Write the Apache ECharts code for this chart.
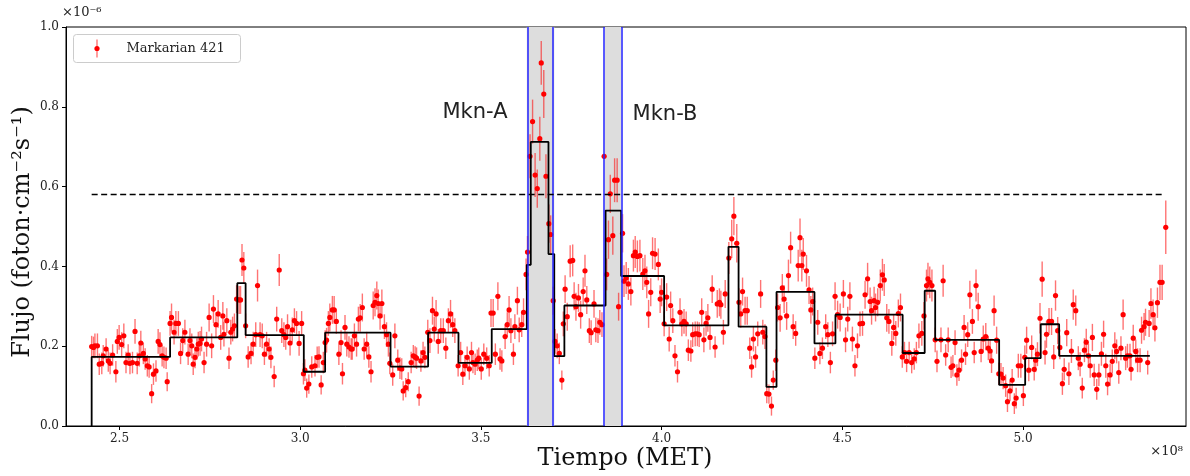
<!DOCTYPE html>
<html>
<head>
<meta charset="utf-8">
<script src="https://cdn.jsdelivr.net/npm/echarts@6/dist/echarts.min.js"></script>
<style>
  html, body { margin: 0; padding: 0; background: #fff; }
  #chart { width: 1190px; height: 476px; }
</style>
</head>
<body>
<div id="chart"></div>
<script>
// tiempo en unidades de 1e8 s (MET), flujo en unidades de 1e-6 foton cm^-2 s^-1
var tiempo = [
  2.423,2.428,2.432,2.439,2.444,2.451,2.455,2.463,2.469,2.474,2.481,2.490,2.494,2.499,2.506,2.512,2.518,2.524,2.529,2.536,
  2.543,2.549,2.555,2.559,2.566,2.571,2.577,2.582,2.589,2.594,2.601,2.607,2.612,2.618,2.623,2.629,2.632,2.640,2.644,2.651,
  2.656,2.663,2.669,2.675,2.681,2.690,2.695,2.700,2.704,2.709,2.714,2.718,2.723,2.727,2.734,2.741,2.748,2.755,2.760,2.767,
  2.773,2.780,2.786,2.789,2.797,2.803,2.808,2.813,2.818,2.824,2.831,2.835,2.839,2.844,2.849,2.856,
  2.864,2.870,2.877,2.882,2.889,2.895,2.901,2.907,2.914,2.919,2.928,2.935,2.942,2.949,2.955,2.960,2.965,2.972,2.978,2.984,
  2.990,2.997,3.004,3.009,3.013,3.018,3.024,3.032,3.041,3.047,3.052,3.058,3.064,3.069,3.073,3.078,3.082,3.089,3.094,3.100,
  3.107,3.113,3.117,3.124,3.129,3.135,3.141,3.144,3.150,3.156,3.161,3.166,3.172,3.177,3.184,3.190,3.196,3.202,3.207,3.212,
  3.216,3.221,3.226,3.233,3.239,3.244,3.248,3.256,3.262,3.270,3.276,3.281,3.285,3.292,3.299,3.307,3.313,3.318,3.322,3.329,
  3.334,3.340,3.345,3.353,3.359,3.366,3.371,
  3.376,3.382,3.389,3.396,3.403,3.410,3.416,3.422,3.428,3.437,3.444,3.450,3.456,3.462,3.468,3.474,3.478,3.484,3.490,3.494,
  3.501,3.508,3.516,3.523,3.528,3.534,3.540,3.547,3.553,3.558,3.567,3.573,3.578,3.583,3.590,3.594,3.601,3.606,3.613,3.618,
  3.625,3.629,3.636,3.643,3.650,3.656,3.663,3.667,3.674,3.680,3.688,3.693,3.700,3.705,3.711,3.717,3.724,3.728,3.733,3.739,
  3.747,3.754,3.758,3.763,3.770,3.776,3.783,3.788,3.793,3.800,3.805,3.813,3.818,3.824,3.829,3.835,3.841,3.848,3.853,3.858,
  3.865,3.870,3.877,3.881,
  3.892,3.896,3.902,3.908,3.915,3.922,3.927,3.933,3.940,3.948,3.954,3.959,3.964,3.970,3.975,3.982,3.991,3.996,4.000,4.007,
  4.014,4.021,4.025,4.031,4.037,4.044,4.051,4.056,4.062,4.068,4.074,4.081,4.086,4.093,4.099,4.104,4.111,4.117,4.123,4.128,
  4.134,4.140,4.148,4.154,4.160,4.164,4.171,4.176,4.186,4.194,4.200,4.208,4.214,4.219,4.224,4.231,4.237,4.244,4.249,4.254,
  4.260,4.266,4.274,4.280,4.286,4.291,4.297,4.304,4.309,4.316,4.321,4.328,4.334,4.339,4.346,4.351,4.357,4.364,4.371,4.378,
  4.383,4.388,4.392,4.401,4.408,4.413,4.418,4.424,4.432,4.438,4.445,4.454,4.460,4.467,4.473,4.480,4.487,4.494,4.503,4.509,
  4.515,4.521,4.528,4.535,4.542,4.549,4.556,4.563,4.570,4.577,4.581,4.588,4.592,4.598,4.605,4.611,4.616,4.623,4.629,4.637,
  4.642,4.648,4.655,4.661,4.666,4.672,4.678,4.685,4.692,4.699,4.705,4.712,4.720,4.726,4.733,4.737,4.742,4.748,4.757,4.762,
  4.773,4.779,4.786,4.793,4.801,4.806,4.812,4.817,4.823,4.830,4.837,4.841,4.847,4.853,4.860,4.865,4.870,4.876,4.884,
  4.890,4.897,4.904,4.909,4.913,4.920,4.927,4.933,4.939,4.945,4.952,4.957,4.964,4.970,4.976,4.981,4.987,4.994,5.001,5.005,
  5.010,5.016,5.024,5.031,5.035,5.040,5.047,5.053,5.061,5.065,5.072,5.079,5.085,5.090,5.096,5.102,5.109,5.114,5.121,5.127,
  5.134,5.139,5.146,5.153,5.158,5.164,5.170,5.175,5.181,5.186,5.192,5.197,5.204,5.210,5.217,5.223,5.229,5.234,5.241,5.247,
  5.254,5.259,5.265,5.271,5.277,5.284,5.289,5.296,5.299,5.305,5.312,5.317,5.324,5.328,5.335,5.339,5.345,5.349,5.354,5.360,
  5.365,5.372,5.379,5.385,5.395
];

var flujo = [
  0.199,0.197,0.201,0.201,0.155,0.157,0.176,0.193,0.163,0.157,0.178,0.136,0.212,0.222,0.204,0.226,0.159,0.178,0.157,0.159,
  0.237,0.157,0.176,0.208,0.182,0.168,0.151,0.148,0.081,0.130,0.138,0.212,0.204,0.176,0.172,0.170,0.111,0.257,0.272,0.235,
  0.257,0.257,0.182,0.214,0.235,0.180,0.214,0.201,0.155,0.172,0.193,0.205,0.207,0.218,0.159,0.205,0.272,0.201,0.293,0.254,
  0.281,0.222,0.276,0.230,0.264,0.170,0.235,0.243,0.251,0.318,0.316,0.316,0.416,0.396,0.251,0.173,
  0.182,0.205,0.229,0.352,0.229,0.226,0.180,0.205,0.193,0.172,0.124,0.268,0.391,0.239,0.229,0.222,0.249,0.208,0.241,0.264,
  0.257,0.207,0.257,0.131,0.140,0.095,0.105,0.148,0.151,0.172,0.173,0.103,0.159,0.209,0.215,0.257,0.272,0.291,0.291,0.262,
  0.180,0.209,0.131,0.247,0.205,0.198,0.193,0.193,0.226,0.205,0.268,0.271,0.297,0.193,0.205,0.173,0.136,0.302,0.310,0.327,
  0.307,0.276,0.307,0.249,0.229,0.205,0.157,0.128,0.226,0.165,0.145,0.143,0.088,0.096,0.111,0.159,0.176,0.173,0.170,0.075,
  0.163,0.184,0.172,0.235,0.214,0.289,0.243,
  0.281,0.212,0.239,0.239,0.195,0.264,0.281,0.254,0.239,0.151,0.184,0.130,0.151,0.172,0.143,0.184,0.159,0.155,0.165,0.170,
  0.143,0.180,0.170,0.151,0.283,0.283,0.180,0.325,0.168,0.163,0.224,0.254,0.291,0.239,0.180,0.249,0.314,0.241,0.254,0.285,
  0.380,0.436,0.676,0.763,0.629,0.595,0.720,0.910,0.832,0.626,0.507,0.480,0.314,0.212,0.201,0.182,0.115,0.256,0.343,0.274,
  0.413,0.415,0.325,0.299,0.321,0.279,0.337,0.389,0.316,0.239,0.234,0.306,0.241,0.239,0.260,0.254,0.676,0.380,0.467,0.582,
  0.477,0.616,0.616,0.299,
  0.483,0.363,0.371,0.356,0.337,0.427,0.436,0.425,0.427,0.381,0.389,0.360,0.281,0.335,0.433,0.431,0.405,0.318,0.335,0.256,
  0.323,0.218,0.302,0.264,0.176,0.136,0.285,0.256,0.262,0.256,0.190,0.188,0.229,0.231,0.231,0.229,0.285,0.216,0.257,0.271,
  0.222,0.343,0.198,0.306,0.310,0.304,0.235,0.331,0.421,0.469,0.526,0.458,0.310,0.281,0.337,0.289,0.289,0.195,0.148,0.218,
  0.173,0.231,0.331,0.235,0.224,0.081,0.080,0.050,0.115,0.165,0.297,0.271,0.346,0.318,0.276,0.377,0.447,0.249,0.232,0.402,
  0.472,0.402,0.431,0.389,0.341,0.291,0.312,0.170,0.260,0.182,0.195,0.249,0.229,0.159,0.231,0.325,0.279,0.272,0.331,0.216,
  0.268,0.325,0.218,0.151,0.201,0.256,0.257,0.329,0.369,0.312,0.289,0.314,0.297,0.310,0.352,0.379,0.366,0.271,0.262,0.207,
  0.247,0.232,0.282,0.297,0.173,0.184,0.162,0.184,0.159,0.168,0.184,0.226,0.232,0.276,0.352,0.369,0.360,0.352,0.216,0.162,
  0.216,0.364,0.178,0.216,0.147,0.151,0.209,0.128,0.140,0.165,0.247,0.180,0.229,0.329,0.262,0.184,0.352,0.299,0.187,
  0.218,0.224,0.195,0.188,0.163,0.289,0.215,0.131,0.130,0.120,0.101,0.061,0.088,0.115,0.056,0.070,0.151,0.151,0.076,0.172,
  0.215,0.140,0.197,0.142,0.165,0.180,0.270,0.368,0.184,0.230,0.262,0.262,0.173,0.327,0.239,0.197,0.106,0.142,0.234,0.131,
  0.188,0.304,0.289,0.170,0.155,0.095,0.190,0.210,0.176,0.151,0.222,0.128,0.092,0.128,0.181,0.230,0.151,0.105,0.128,0.162,
  0.201,0.187,0.134,0.195,0.279,0.170,0.176,0.176,0.142,0.220,0.187,0.165,0.165,0.240,0.249,0.260,0.159,0.257,0.307,0.279,
  0.246,0.309,0.360,0.360,0.498
];

var errFlujo = [
  0.027,0.027,0.031,0.031,0.027,0.027,0.027,0.027,0.027,0.027,0.027,0.027,0.031,0.031,0.031,0.031,0.027,0.027,0.027,0.027,
  0.031,0.027,0.027,0.031,0.027,0.027,0.027,0.027,0.024,0.027,0.027,0.031,0.031,0.027,0.027,0.027,0.024,0.031,0.035,0.031,
  0.031,0.031,0.027,0.031,0.031,0.027,0.031,0.031,0.027,0.027,0.027,0.031,0.031,0.031,0.027,0.031,0.035,0.031,0.035,0.031,
  0.035,0.031,0.035,0.031,0.031,0.027,0.031,0.031,0.031,0.035,0.035,0.035,0.040,0.040,0.031,0.027,
  0.027,0.031,0.031,0.040,0.031,0.031,0.027,0.031,0.027,0.027,0.027,0.031,0.040,0.031,0.031,0.031,0.031,0.031,0.031,0.031,
  0.031,0.031,0.031,0.027,0.027,0.024,0.024,0.027,0.027,0.027,0.027,0.024,0.027,0.031,0.031,0.031,0.035,0.035,0.035,0.031,
  0.027,0.031,0.027,0.031,0.031,0.027,0.027,0.027,0.031,0.031,0.031,0.035,0.035,0.027,0.031,0.027,0.027,0.035,0.035,0.035,
  0.035,0.035,0.035,0.031,0.031,0.031,0.027,0.027,0.031,0.027,0.027,0.027,0.024,0.024,0.024,0.027,0.027,0.027,0.027,0.024,
  0.027,0.027,0.027,0.031,0.031,0.035,0.031,
  0.035,0.031,0.031,0.031,0.027,0.031,0.035,0.031,0.031,0.027,0.027,0.027,0.027,0.027,0.027,0.027,0.027,0.027,0.027,0.027,
  0.027,0.027,0.027,0.027,0.035,0.035,0.027,0.035,0.027,0.027,0.031,0.031,0.035,0.031,0.027,0.031,0.035,0.031,0.031,0.035,
  0.040,0.040,0.055,0.055,0.055,0.048,0.055,0.055,0.060,0.055,0.048,0.048,0.035,0.031,0.031,0.027,0.024,0.031,0.035,0.035,
  0.040,0.040,0.035,0.035,0.035,0.035,0.035,0.040,0.035,0.031,0.031,0.035,0.031,0.031,0.031,0.031,0.005,0.040,0.048,0.048,
  0.048,0.055,0.055,0.035,
  0.048,0.040,0.040,0.040,0.035,0.040,0.040,0.040,0.040,0.040,0.040,0.040,0.035,0.035,0.040,0.040,0.040,0.035,0.035,0.031,
  0.035,0.031,0.035,0.031,0.027,0.027,0.035,0.031,0.031,0.031,0.027,0.027,0.031,0.031,0.031,0.031,0.035,0.031,0.031,0.035,
  0.031,0.035,0.027,0.035,0.035,0.035,0.031,0.035,0.040,0.048,0.048,0.048,0.035,0.035,0.035,0.035,0.035,0.027,0.027,0.031,
  0.027,0.031,0.035,0.031,0.031,0.024,0.024,0.024,0.024,0.027,0.035,0.035,0.035,0.035,0.035,0.040,0.040,0.031,0.031,0.040,
  0.048,0.040,0.040,0.040,0.035,0.035,0.035,0.027,0.031,0.027,0.027,0.031,0.031,0.027,0.031,0.035,0.035,0.035,0.035,0.031,
  0.031,0.035,0.031,0.027,0.031,0.031,0.031,0.035,0.040,0.035,0.035,0.035,0.035,0.035,0.040,0.040,0.040,0.035,0.031,0.031,
  0.031,0.031,0.035,0.035,0.027,0.027,0.027,0.027,0.027,0.027,0.027,0.031,0.031,0.035,0.040,0.040,0.040,0.040,0.031,0.027,
  0.031,0.040,0.027,0.031,0.027,0.027,0.031,0.027,0.027,0.027,0.031,0.027,0.031,0.035,0.031,0.027,0.040,0.035,0.027,
  0.034,0.034,0.030,0.030,0.030,0.038,0.034,0.028,0.028,0.028,0.028,0.026,0.026,0.028,0.026,0.026,0.030,0.030,0.026,0.030,
  0.034,0.028,0.030,0.028,0.030,0.030,0.038,0.044,0.030,0.034,0.034,0.034,0.030,0.038,0.034,0.030,0.028,0.028,0.034,0.028,
  0.030,0.038,0.038,0.030,0.030,0.026,0.030,0.034,0.030,0.030,0.034,0.028,0.026,0.028,0.030,0.034,0.030,0.028,0.028,0.030,
  0.034,0.030,0.028,0.030,0.038,0.030,0.030,0.030,0.028,0.034,0.030,0.030,0.030,0.034,0.034,0.034,0.030,0.034,0.038,0.038,
  0.034,0.038,0.044,0.044,0.067
];

// bloques bayesianos: bordes y niveles
var bordesBloques = [2.423,2.640,2.826,2.849,3.010,3.069,3.250,3.354,3.438,3.530,3.627,3.638,3.687,3.703,3.731,3.845,
  3.888,4.007,4.185,4.213,4.290,4.318,4.423,4.481,4.667,4.728,4.757,4.934,5.006,5.049,5.100,5.351];
var nivelesBloques = [0.173,0.222,0.358,0.228,0.136,0.234,0.149,0.234,0.158,0.243,0.404,0.712,0.431,0.175,0.302,0.540,
  0.376,0.252,0.449,0.249,0.098,0.336,0.207,0.279,0.183,0.339,0.216,0.103,0.170,0.255,0.176];

var umbral = 0.58;
var umbralInicio = 2.423, umbralFin = 5.393;
var regionA = [3.627, 3.703];
var regionB = [3.843, 3.888];
var xTicks = [2.5, 3.0, 3.5, 4.0, 4.5, 5.0];

var puntos = [];
for (var i = 0; i < tiempo.length; i++) {
  puntos.push([tiempo[i], flujo[i], errFlujo[i]]);
}
var escalon = [[bordesBloques[0], 0]];
for (var j = 0; j < nivelesBloques.length; j++) {
  escalon.push([bordesBloques[j], nivelesBloques[j]]);
  escalon.push([bordesBloques[j + 1], nivelesBloques[j]]);
}

var serif = 'DejaVu Serif';
var chart = echarts.init(document.getElementById('chart'));
var option = {
  animation: false,
  backgroundColor: '#fff',
  grid: { left: 66, right: 4, top: 27, bottom: 50, show: true, borderColor: '#000', borderWidth: 1 },
  xAxis: {
    type: 'value',
    min: 2.352,
    max: 5.451,
    axisLine: { show: true, lineStyle: { color: '#000' } },
    axisTick: { show: true, length: 4, customValues: xTicks, lineStyle: { color: '#000' } },
    axisLabel: {
      customValues: xTicks, margin: 7, color: '#222', fontFamily: serif, fontSize: 12,
      formatter: function (v) { return v.toFixed(1); }
    },
    splitLine: { show: false }
  },
  yAxis: {
    type: 'value',
    min: 0,
    max: 1,
    interval: 0.2,
    axisLine: { show: true, lineStyle: { color: '#000' } },
    axisTick: { show: true, length: 4, lineStyle: { color: '#000' } },
    axisLabel: {
      margin: 7, color: '#222', fontFamily: serif, fontSize: 12,
      formatter: function (v) { return v.toFixed(1); }
    },
    splitLine: { show: false }
  },
  series: [
    {
      type: 'line',
      data: [],
      z: 1,
      silent: true,
      markArea: {
        silent: true,
        itemStyle: { color: '#dddddd' },
        data: [
          [{ xAxis: regionA[0] }, { xAxis: regionA[1] }],
          [{ xAxis: regionB[0] }, { xAxis: regionB[1] }]
        ]
      },
      markLine: {
        silent: true,
        symbol: 'none',
        label: { show: false },
        lineStyle: { color: '#2222ff', width: 1.5, type: 'solid' },
        data: [
          { xAxis: regionA[0] }, { xAxis: regionA[1] },
          { xAxis: regionB[0] }, { xAxis: regionB[1] },
          [
            { coord: [umbralInicio, umbral], lineStyle: { color: '#000', type: [6, 3.5], width: 1.3 } },
            { coord: [umbralFin, umbral] }
          ]
        ]
      }
    },
    {
      type: 'custom',
      name: 'Markarian 421',
      z: 3,
      data: puntos,
      encode: { x: 0, y: 1 },
      renderItem: function (params, api) {
        var t = api.value(0), f = api.value(1), e = api.value(2);
        var c = api.coord([t, f]);
        var a = api.coord([t, f + e]);
        var b = api.coord([t, f - e]);
        return {
          type: 'group',
          children: [
            { type: 'line', shape: { x1: c[0], y1: a[1], x2: c[0], y2: b[1] },
              style: { stroke: 'rgba(255,0,0,0.55)', lineWidth: 1.4 } },
            { type: 'circle', shape: { cx: c[0], cy: c[1], r: 2.6 }, style: { fill: '#ff0000' } }
          ]
        };
      }
    },
    {
      type: 'line',
      z: 4,
      data: escalon,
      showSymbol: false,
      silent: true,
      lineStyle: { color: '#000', width: 1.8 }
    }
  ],
  graphic: [
    { type: 'text', left: 62, top: 6, style: { text: '×10⁻⁶', font: '13px "DejaVu Serif"', fill: '#222' } },
    { type: 'text', right: 7, top: 445, style: { text: '×10⁸', font: '13px "DejaVu Serif"', fill: '#222' } },
    { type: 'text', x: 625, y: 459, style: { text: 'Tiempo (MET)', font: '24px "DejaVu Serif"', fill: '#111', align: 'center', verticalAlign: 'middle' } },
    { type: 'text', x: 23, y: 232, rotation: Math.PI / 2,
      style: { text: 'Flujo (foton·cm⁻²s⁻¹)', font: '24px "DejaVu Serif"', fill: '#111', align: 'center', verticalAlign: 'middle' } },
    { type: 'text', x: 475, y: 113, style: { text: 'Mkn-A', font: '21px "DejaVu Sans"', fill: '#222', align: 'center', verticalAlign: 'middle' } },
    { type: 'text', x: 665, y: 115, style: { text: 'Mkn-B', font: '21px "DejaVu Sans"', fill: '#222', align: 'center', verticalAlign: 'middle' } },
    {
      type: 'group', left: 73, top: 34,
      children: [
        { type: 'rect', shape: { x: 0, y: 0, width: 167, height: 28, r: 3 }, style: { fill: 'rgba(255,255,255,0.85)', stroke: '#cccccc', lineWidth: 1 } },
        { type: 'line', shape: { x1: 23.5, y1: 5, x2: 23.5, y2: 23 }, style: { stroke: 'rgba(255,0,0,0.55)', lineWidth: 1.4 } },
        { type: 'circle', shape: { cx: 23.5, cy: 14, r: 2.6 }, style: { fill: '#ff0000' } },
        { type: 'text', x: 53, y: 14, style: { text: 'Markarian 421', font: '13px "DejaVu Serif"', fill: '#222', verticalAlign: 'middle' } }
      ]
    }
  ]
};
chart.setOption(option);
</script>
</body>
</html>
